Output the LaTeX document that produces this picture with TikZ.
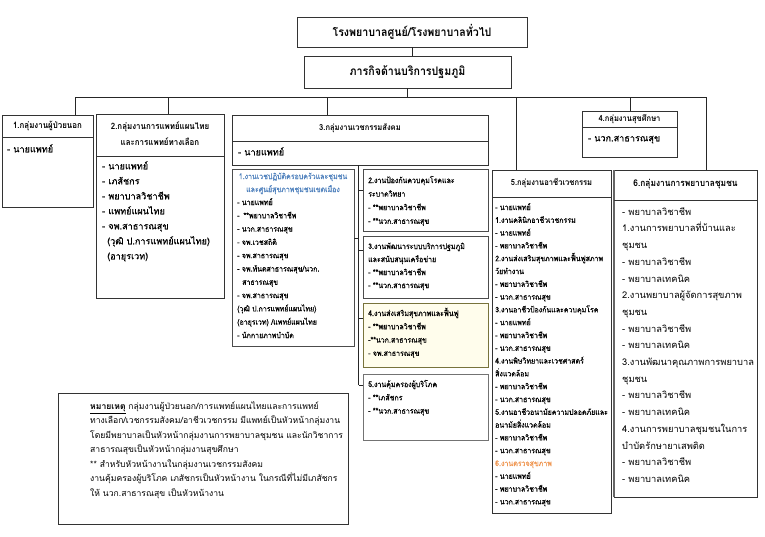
\documentclass[tikz,border=0pt]{standalone}
\usepackage{fontspec}
\setmainfont[Script=Thai]{Loma}
\newfontfamily\fnarrow[Script=Thai,FakeStretch=0.9]{Loma}
\newfontfamily\fnarrowdark[Script=Thai,FakeStretch=0.9,FakeBold=0.6]{Loma}
\newfontfamily\fdark[Script=Thai,FakeBold=0.5]{Loma}
\newcommand\ftop{\fontsize{11.8}{14}\fnarrow\bfseries}
\newcommand\fhdr{\fontsize{8.4}{10}\fnarrow\bfseries}
\newcommand\fitm{\fontsize{7.8}{9}\fnarrowdark}
\newcommand\fbig{\fontsize{9.3}{11}\selectfont}
\newcommand\fbigdark{\fontsize{9.1}{11}\fdark}
\newcommand\fnote{\fontsize{8.6}{10}\selectfont}
\definecolor{hblue}{RGB}{79,129,189}
\definecolor{horange}{RGB}{240,150,80}
\definecolor{cream}{RGB}{255,253,236}
\definecolor{olivebd}{RGB}{120,115,60}
\begin{document}
\begin{tikzpicture}[x=1pt,y=-1pt,
  box/.style={draw=black!80, line width=0.8pt, anchor=north west, inner sep=0pt, outer sep=0pt},
  subbox/.style={box, draw=black!70},
  itm/.style={anchor=west, inner sep=0pt, text height=6pt, text depth=2pt, font=\fitm},
  bitm/.style={anchor=west, inner sep=0pt, text height=7pt, text depth=2.5pt, font=\fbig},
  ditm/.style={bitm, font=\fbigdark},
  nitm/.style={anchor=west, inner sep=0pt, text height=6.5pt, text depth=2.2pt, font=\fnote},
  hdr/.style={anchor=center, inner sep=0pt, text height=6pt, text depth=2pt, font=\fhdr},
  conn/.style={draw=black!85, line width=0.8pt},
  divl/.style={draw=black!80, line width=0.8pt}]
\useasboundingbox[fill=white] (0,0) rectangle (765,536);

% top boxes
\node[box, minimum width=230pt, minimum height=30pt, font=\ftop] (top) at (297,17) {โรงพยาบาลศูนย์/โรงพยาบาลทั่วไป};
\node[box, minimum width=207pt, minimum height=32pt, font=\ftop] (mission) at (304,56) {ภารกิจด้านบริการปฐมภูมิ};

% group boxes
\node[box, minimum width=91pt, minimum height=92pt] (b1) at (2,115) {};
\node[box, minimum width=128pt, minimum height=184pt] (b2) at (96,114) {};
\node[box, minimum width=256pt, minimum height=50pt] (b3) at (232,115) {};
\node[box, minimum width=95pt, minimum height=46pt] (b4) at (582,111) {};
\node[box, minimum width=119pt, minimum height=343pt] (b5) at (492,170) {};
\node[box, minimum width=143pt, minimum height=327pt] (b6) at (614,170) {};
\draw[draw=black!60, line width=1.6pt] (b6.north west) -- (b6.south west);

% sub boxes of group 3
\node[subbox, minimum width=122pt, minimum height=177pt] (b31) at (232,169) {};
\node[subbox, minimum width=125pt, minimum height=62pt] (b32) at (363,169) {};
\node[subbox, minimum width=125pt, minimum height=62pt] (b33) at (363,236) {};
\node[subbox, draw=olivebd, fill=cream, minimum width=125pt, minimum height=64pt] (b34) at (363,303) {};
\node[subbox, draw=black!55, minimum width=125pt, minimum height=66pt] (b35) at (363,374) {};

% note box
\node[box, minimum width=290pt, minimum height=131pt] (note) at (58,393) {};

% dividers
\draw[divl] (2,137) -- (93,137);
\draw[divl] (96,156) -- (224,156);
\draw[divl] (232,141) -- (488,141);
\draw[divl] (582,127) -- (677,127);
\draw[divl] (492,197) -- (611,197);
\draw[divl] (614,200) -- (757,200);

% connectors
\coordinate (busL) at (75,97);
\coordinate (busR) at (706,97);
\coordinate (d2) at (168,97);
\coordinate (d3) at (327,97);
\coordinate (d5) at (516,97);
\coordinate (d4) at (630,97);
\coordinate (sp) at (358.5,165);
\coordinate (spEnd) at (358.5,385);
\draw[conn] (top.south) -- (top.south |- mission.north);
\draw[conn] (mission.south) -- (mission.south |- busL);
\draw[conn] (busL) -- (busR);
\draw[conn] (busL) -- (busL |- b1.north);
\draw[conn] (d2) -- (d2 |- b2.north);
\draw[conn] (d3) -- (d3 |- b3.north);
\draw[conn] (d5) -- (d5 |- b5.north);
\draw[conn] (d4) -- (d4 |- b4.north);
\draw[conn] (busR) -- (busR |- b6.north);
\draw[conn] (sp |- b3.south) -- (spEnd);
\draw[conn] (b31.east |- 0,238) -- (sp |- 0,238);
\draw[conn] (sp |- 0,190) -- (b32.west |- 0,190);
\draw[conn] (sp |- 0,250) -- (b33.west |- 0,250);
\draw[conn] (sp |- 0,318) -- (b34.west |- 0,318);
\draw[conn] (spEnd) -- (b35.west |- spEnd);

% group 1
\node[hdr, font=\fontsize{8.8}{10}\fnarrow\bfseries] (h1) at (47.5,126) {1.กลุ่มงานผู้ป่วยนอก};
\node[ditm] (t1) at (7,150) {- นายแพทย์};

% group 2
\node[hdr, font=\fontsize{8.8}{10}\fnarrow\bfseries] (h2a) at (160,127) {2.กลุ่มงานการแพทย์แผนไทย};
\node[hdr, font=\fontsize{8.8}{10}\fnarrow\bfseries] (h2b) at (160,143) {และการแพทย์ทางเลือก};
\foreach \t [count=\i from 0] in {{- นายแพทย์},{- เภสัชกร},{- พยาบาลวิชาชีพ},{- แพทย์แผนไทย},{- จพ.สาธารณสุข},{\hspace*{5pt}(วุฒิ ป.การแพทย์แผนไทย)},{\hspace*{5pt}(อายุรเวท)}}
  \node[ditm] (t2-\i) at (102,{167+\i*15}) {\t};

% group 3
\node[hdr] (h3) at (360,128) {3.กลุ่มงานเวชกรรมสังคม};
\node[ditm] (t3) at (238,153) {- นายแพทย์};

% 3.1
\node[hdr, font=\fitm, text=hblue] (h31a) at (293,177) {1.งานเวชปฏิบัติครอบครัวและชุมชน};
\node[hdr, font=\fitm, text=hblue] (h31b) at (293,190) {และศูนย์สุขภาพชุมชนเขตเมือง};
\foreach \t [count=\i from 0] in {{- นายแพทย์},{-\hspace*{4pt}**พยาบาลวิชาชีพ},{- นวก.สาธารณสุข},{- จพ.เวชสถิติ},{- จพ.สาธารณสุข},{- จพ.ทันตสาธารณสุข/นวก.},{\hspace*{5pt}สาธารณสุข},{- จพ.สาธารณสุข},{(วุฒิ ป.การแพทย์แผนไทย)},{(อายุรเวท) /แพทย์แผนไทย},{- นักกายภาพบำบัด}}
  \node[itm] (t31-\i) at (237,{203+\i*13.3}) {\t};

% 3.2
\foreach \t [count=\i from 0] in {{2.งานป้องกันควบคุมโรคและ},{ระบาดวิทยา},{- **พยาบาลวิชาชีพ},{- **นวก.สาธารณสุข}}
  \node[itm] (t32-\i) at (368,{181+\i*13.6}) {\t};
% 3.3
\foreach \t [count=\i from 0] in {{3.งานพัฒนาระบบบริการปฐมภูมิ},{และสนับสนุนเครือข่าย},{- **พยาบาลวิชาชีพ},{- **นวก.สาธารณสุข}}
  \node[itm] (t33-\i) at (368,{247+\i*13}) {\t};
% 3.4
\foreach \t [count=\i from 0] in {{4.งานส่งเสริมสุขภาพและฟื้นฟู},{- **พยาบาลวิชาชีพ},{-**นวก.สาธารณสุข},{- จพ.สาธารณสุข}}
  \node[itm] (t34-\i) at (368,{314+\i*13.3}) {\t};
% 3.5
\foreach \t [count=\i from 0] in {{5.งานคุ้มครองผู้บริโภค},{- **เภสัชกร},{- **นวก.สาธารณสุข}}
  \node[itm] (t35-\i) at (368,{385+\i*13.3}) {\t};

% group 4
\node[hdr] (h4) at (629.5,119) {4.กลุ่มงานสุขศึกษา};
\node[ditm] (t4) at (588,139) {- นวก.สาธารณสุข};

% group 5
\node[hdr] (h5) at (551.5,183) {5.กลุ่มงานอาชีวเวชกรรม};
\foreach \t [count=\i from 0] in {{- นายแพทย์},{1.งานคลินิกอาชีวเวชกรรม},{- นายแพทย์},{- พยาบาลวิชาชีพ},{2.งานส่งเสริมสุขภาพและฟื้นฟูสภาพ},{วัยทำงาน},{- พยาบาลวิชาชีพ},{- นวก.สาธารณสุข},{3.งานอาชีวป้องกันและควบคุมโรค},{- นายแพทย์},{- พยาบาลวิชาชีพ},{- นวก.สาธารณสุข},{4.งานพิษวิทยาและเวชศาสตร์},{สิ่งแวดล้อม},{- พยาบาลวิชาชีพ},{- นวก.สาธารณสุข},{5.งานอาชีวอนามัยความปลอดภัยและ},{อนามัยสิ่งแวดล้อม},{- พยาบาลวิชาชีพ},{- นวก.สาธารณสุข},{\textcolor{horange}{6.งานตรวจสุขภาพ}},{- นายแพทย์},{- พยาบาลวิชาชีพ},{- นวก.สาธารณสุข}}
  \node[itm] (t5-\i) at (495,{208+\i*12.8}) {\t};

% group 6
\node[hdr, font=\fontsize{9.3}{11}\fnarrow\bfseries] (h6) at (685.5,184) {6.กลุ่มงานการพยาบาลชุมชน};
\foreach \t [count=\i from 0] in {{- พยาบาลวิชาชีพ},{1.งานการพยาบาลที่บ้านและ},{ชุมชน},{- พยาบาลวิชาชีพ},{- พยาบาลเทคนิค},{2.งานพยาบาลผู้จัดการสุขภาพ},{ชุมชน},{- พยาบาลวิชาชีพ},{- พยาบาลเทคนิค},{3.งานพัฒนาคุณภาพการพยาบาล},{ชุมชน},{- พยาบาลวิชาชีพ},{- พยาบาลเทคนิค},{4.งานการพยาบาลชุมชนในการ},{บำบัดรักษายาเสพติด},{- พยาบาลวิชาชีพ},{- พยาบาลเทคนิค}}
  \node[bitm] (t6-\i) at (622,{213+\i*16.7}) {\t};

% note
\foreach \t [count=\i from 0] in {{\underline{\textbf{หมายเหตุ}} กลุ่มงานผู้ป่วยนอก/การแพทย์แผนไทยและการแพทย์},{ทางเลือก/เวชกรรมสังคม/อาชีวเวชกรรม มีแพทย์เป็นหัวหน้ากลุ่มงาน},{โดยมีพยาบาลเป็นหัวหน้ากลุ่มงานการพยาบาลชุมชน และนักวิชาการ},{สาธารณสุขเป็นหัวหน้ากลุ่มงานสุขศึกษา},{** สำหรับหัวหน้างานในกลุ่มงานเวชกรรมสังคม},{งานคุ้มครองผู้บริโภค เภสัชกรเป็นหัวหน้างาน ในกรณีที่ไม่มีเภสัชกร},{ให้ นวก.สาธารณสุข เป็นหัวหน้างาน}}
  \node[nitm] (tn-\i) at (90,{407+\i*14.5}) {\t};
\end{tikzpicture}
\end{document}
